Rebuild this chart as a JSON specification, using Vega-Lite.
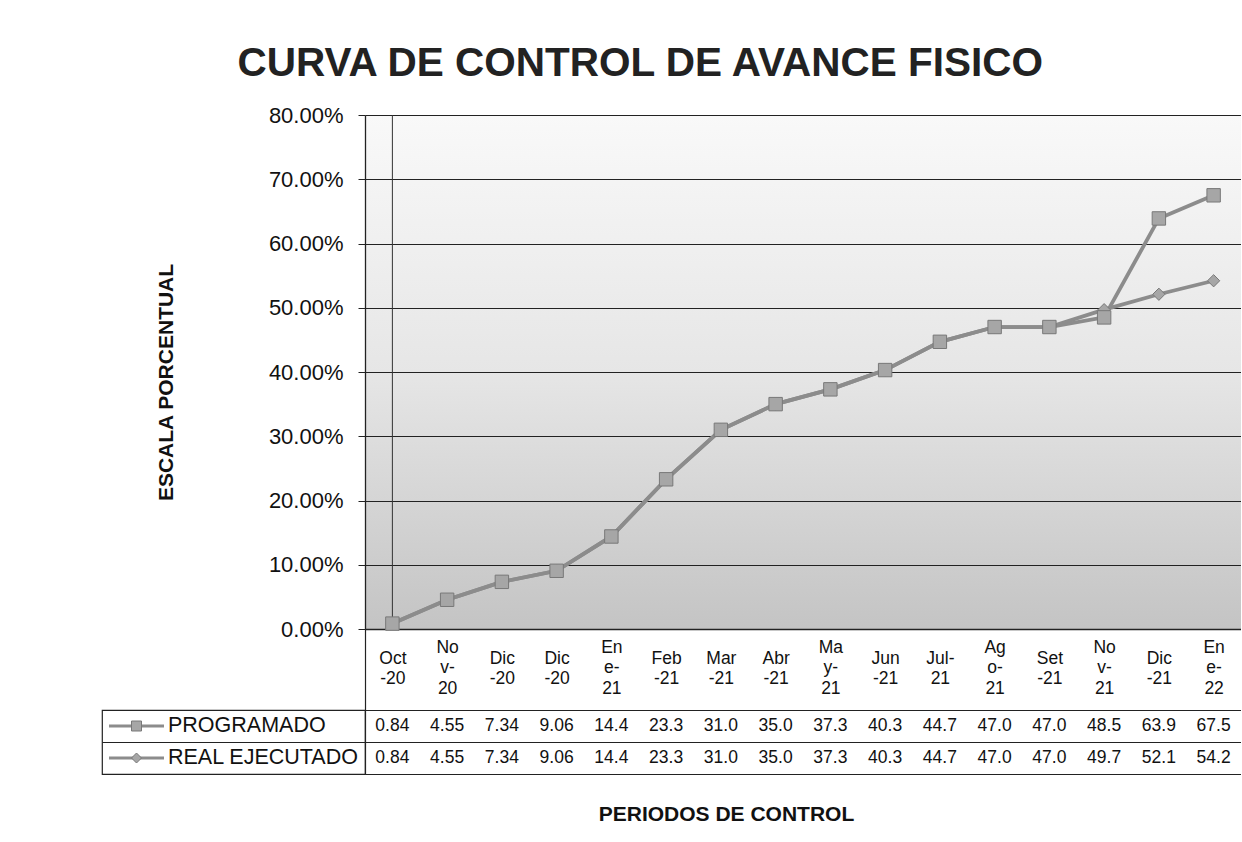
{
  "$schema": "https://vega.github.io/schema/vega-lite/v6.json",
  "padding": {"left": 101, "top": 43, "right": 0, "bottom": 0},
  "background": "white",
  "title": {
    "text": "CURVA DE CONTROL DE AVANCE FISICO",
    "font": "Liberation Sans",
    "fontSize": 40.5,
    "fontWeight": "bold",
    "color": "#222222",
    "anchor": "middle",
    "dx": -31,
    "offset": 20
  },
  "config": {
    "font": "Liberation Sans",
    "view": {"stroke": null},
    "axis": {"labelFont": "Liberation Sans", "titleFont": "Liberation Sans", "labelColor": "#111111", "titleColor": "#111111"}
  },
  "data": {
    "values": [
      {"n": 1, "periodo": "Oct-20", "programado": 0.84, "real": 0.84},
      {"n": 2, "periodo": "Nov-20", "programado": 4.55, "real": 4.55},
      {"n": 3, "periodo": "Dic-20", "programado": 7.34, "real": 7.34},
      {"n": 4, "periodo": "Dic-20", "programado": 9.06, "real": 9.06},
      {"n": 5, "periodo": "Ene-21", "programado": 14.4, "real": 14.4},
      {"n": 6, "periodo": "Feb-21", "programado": 23.3, "real": 23.3},
      {"n": 7, "periodo": "Mar-21", "programado": 31.0, "real": 31.0},
      {"n": 8, "periodo": "Abr-21", "programado": 35.0, "real": 35.0},
      {"n": 9, "periodo": "May-21", "programado": 37.3, "real": 37.3},
      {"n": 10, "periodo": "Jun-21", "programado": 40.3, "real": 40.3},
      {"n": 11, "periodo": "Jul-21", "programado": 44.7, "real": 44.7},
      {"n": 12, "periodo": "Ago-21", "programado": 47.0, "real": 47.0},
      {"n": 13, "periodo": "Set-21", "programado": 47.0, "real": 47.0},
      {"n": 14, "periodo": "Nov-21", "programado": 48.5, "real": 49.7},
      {"n": 15, "periodo": "Dic-21", "programado": 63.9, "real": 52.1},
      {"n": 16, "periodo": "Ene-22", "programado": 67.5, "real": 54.2}
    ]
  },
  "columns": 2,
  "spacing": {"row": 81, "column": 0},
  "bounds": "flush",
  "concat": [
    {
      "width": 263,
      "height": 514,
      "data": {"values": []},
      "mark": {"type": "point", "opacity": 0},
      "encoding": {}
    },
    {
      "width": 876,
      "height": 514,
      "view": {
        "stroke": null,
        "fill": {
          "gradient": "linear",
          "x1": 0, "y1": 0, "x2": 0, "y2": 1,
          "stops": [
            {"offset": 0, "color": "#f9f9f9"},
            {"offset": 0.5, "color": "#e6e6e6"},
            {"offset": 1, "color": "#c4c4c4"}
          ]
        }
      },
      "encoding": {
        "x": {
          "field": "n",
          "type": "ordinal",
          "scale": {"type": "point", "padding": 0.5},
          "axis": {
            "title": null,
            "domain": true,
            "domainColor": "#222222",
            "domainWidth": 1.3,
            "ticks": true,
            "tickSize": 81,
            "tickColor": "#222222",
            "tickWidth": 1.2,
            "tickOpacity": {"condition": {"test": "datum.value == 1", "value": 1}, "value": 0},
            "tickOffset": -27.375,
            "labelOffset": 27.375,
            "labelAngle": 0,
            "labelFontSize": 17.5,
            "labelLineHeight": 20.5,
            "labelBaseline": "middle",
            "labelPadding": {"condition": {"test": "indexof([2, 5, 9, 12, 14, 16], datum.value) >= 0", "value": -63}, "value": -52},
            "labelOverlap": false,
            "labelFlush": false,
            "labelExpr": "[['Oct','-20'],['No','v-','20'],['Dic','-20'],['Dic','-20'],['En','e-','21'],['Feb','-21'],['Mar','-21'],['Abr','-21'],['Ma','y-','21'],['Jun','-21'],['Jul-','21'],['Ag','o-','21'],['Set','-21'],['No','v-','21'],['Dic','-21'],['En','e-','22']][datum.value - 1]"
          }
        }
      },
      "layer": [
        {
          "mark": {"type": "line", "color": "#8c8c8c", "strokeWidth": 3.8},
          "encoding": {
            "y": {
              "field": "real",
              "type": "quantitative",
              "scale": {"domain": [0, 80], "nice": false},
              "axis": {
                "title": "ESCALA PORCENTUAL",
                "values": [0, 10, 20, 30, 40, 50, 60, 70, 80],
                "labelExpr": "format(datum.value / 100, '.2%')",
                "grid": true,
                "gridColor": "#222222",
                "gridWidth": 1.2,
                "gridOpacity": 1,
                "domain": true,
                "domainColor": "#222222",
                "domainWidth": 1.3,
                "ticks": true,
                "tickColor": "#222222",
                "tickSize": 7,
                "labelPadding": 15,
                "labelFontSize": 22,
                "titleFontSize": 21,
                "titleFontWeight": "bold",
                "titleX": -199,
                "titleY": 267,
                "titleAngle": 270,
                "titleAlign": "center",
                "titleBaseline": "middle"
              }
            }
          }
        },
        {
          "transform": [{"filter": "datum.n == 1"}],
          "mark": {"type": "rule", "color": "#333333", "strokeWidth": 1},
          "encoding": {
            "y": {"field": "programado", "type": "quantitative"},
            "y2": {"datum": 80}
          }
        },
        {
          "mark": {"type": "line", "color": "#8c8c8c", "strokeWidth": 3.8},
          "encoding": {"y": {"field": "programado", "type": "quantitative"}}
        },
        {
          "mark": {"type": "point", "shape": "diamond", "filled": true, "size": 150, "fill": "#a6a6a6", "stroke": "#787878", "strokeWidth": 1, "opacity": 1},
          "encoding": {"y": {"field": "real", "type": "quantitative"}}
        },
        {
          "mark": {"type": "point", "shape": "square", "filled": true, "size": 180, "fill": "#a6a6a6", "stroke": "#787878", "strokeWidth": 1, "opacity": 1},
          "encoding": {"y": {"field": "programado", "type": "quantitative"}}
        }
      ]
    },
    {
      "width": 263,
      "height": 64,
      "view": {"stroke": "#222222", "strokeWidth": 1.2},
      "transform": [
        {"filter": "datum.n == 1"},
        {"fold": ["programado", "real"], "as": ["serie", "valor"]}
      ],
      "encoding": {
        "y": {
          "field": "serie",
          "type": "nominal",
          "scale": {"type": "band", "domain": ["programado", "real"], "paddingInner": 0, "paddingOuter": 0},
          "axis": {"title": null, "labels": false, "ticks": false, "domain": false, "grid": true, "bandPosition": 0, "gridColor": "#222222", "gridWidth": 1.2, "gridOpacity": 1}
        }
      },
      "layer": [
        {
          "mark": {"type": "point", "shape": "M-1,0L1,0", "size": 3025, "filled": false, "stroke": "#8c8c8c", "strokeWidth": 3, "opacity": 1, "xOffset": -97},
          "encoding": {}
        },
        {
          "mark": {"type": "point", "filled": true, "size": 100, "fill": "#a6a6a6", "stroke": "#787878", "strokeWidth": 1, "opacity": 1, "xOffset": -97},
          "encoding": {
            "shape": {"field": "serie", "type": "nominal", "scale": {"domain": ["programado", "real"], "range": ["square", "diamond"]}, "legend": null}
          }
        },
        {
          "mark": {"type": "text", "align": "left", "baseline": "middle", "dx": -65.5, "fontSize": 21.5, "color": "#111111"},
          "encoding": {
            "text": {"condition": {"test": "datum.serie == 'programado'", "value": "PROGRAMADO"}, "value": "REAL EJECUTADO"}
          }
        }
      ]
    },
    {
      "width": 876,
      "height": 64,
      "view": {"stroke": null},
      "transform": [{"fold": ["programado", "real"], "as": ["serie", "valor"]}],
      "mark": {"type": "text", "fontSize": 17.5, "color": "#111111", "baseline": "middle"},
      "encoding": {
        "x": {
          "field": "n",
          "type": "ordinal",
          "scale": {"type": "point", "padding": 0.5},
          "axis": {
            "title": "PERIODOS DE CONTROL",
            "labels": false,
            "ticks": false,
            "domain": true,
            "domainColor": "#222222",
            "domainWidth": 1.2,
            "titleFontSize": 21,
            "titleFontWeight": "bold",
            "titleX": 361,
            "titleY": 40,
            "titleAlign": "center",
            "titleBaseline": "middle"
          }
        },
        "y": {
          "field": "serie",
          "type": "nominal",
          "scale": {"type": "band", "domain": ["programado", "real"], "paddingInner": 0, "paddingOuter": 0},
          "axis": {"title": null, "labels": false, "ticks": false, "domain": true, "domainColor": "#222222", "domainWidth": 1.2, "grid": true, "bandPosition": 0, "gridColor": "#222222", "gridWidth": 1.2, "gridOpacity": 1}
        },
        "text": {
          "condition": {"test": "datum.valor < 1", "field": "valor", "type": "quantitative", "format": ".2f"},
          "field": "valor",
          "type": "quantitative",
          "format": ".3g"
        }
      }
    }
  ]
}
